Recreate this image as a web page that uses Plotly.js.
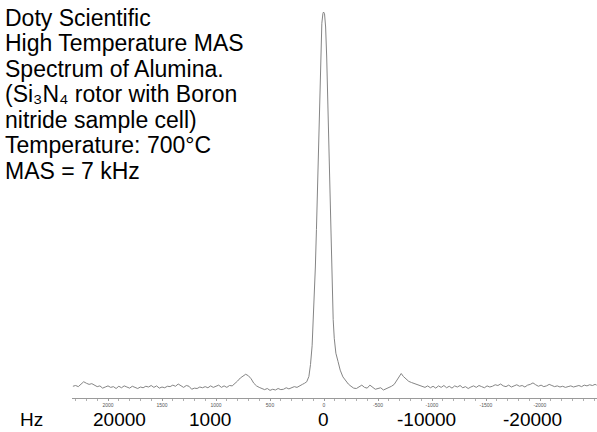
<!DOCTYPE html>
<html>
<head>
<meta charset="utf-8">
<script src="https://cdn.plot.ly/plotly-3.0.1.min.js"></script>
<style>html,body{margin:0;padding:0;background:#fff;}#chart{width:597px;height:432px;}</style>
</head>
<body>
<div id="chart"></div>
<script>
// ---- data (frequency offset in Hz, intensity in arbitrary units) ----
const leftBaselineHz = [23250,23000,22750,22500,22250,22000,21750,21500,21250,21000,
  20750,20500,20250,20000,19750,19500,19250,19000,18750,18500,
  18250,18000,17750,17500,17250,17000,16750,16500,16250,16000,
  15750,15500,15250,15000,14750,14500,14250,14000,13750,13500,
  13250,13000,12750,12500,12250,12000,11750,11500,11250,11000,
  10750,10500,10250,10000,9750,9500,9250,9000,8750];
const leftBaselineInt = [0.2,0.4,0.1,0.9,1.4,1.0,0.7,0.9,0.4,0.1,
  0.3,-0.3,0.0,0.3,-0.1,0.1,-0.4,0.2,-0.2,0.3,
  0.0,-0.3,0.2,-0.1,-0.4,0.0,-0.2,0.2,0.0,0.4,
  -0.1,0.3,-0.3,0.0,-0.2,0.2,0.1,0.5,0.2,0.8,
  0.3,-0.1,0.4,0.2,-0.6,-0.3,-0.4,0.0,-0.2,0.1,
  -0.2,0.3,-0.1,0.2,0.5,-0.1,0.3,-0.1,0.4];

const leftSidebandHz  = [8500,8250,8000,7750,7500,7250,7000,6750,6500,6250,6000];
const leftSidebandInt = [0.3,0.9,1.6,2.4,3.0,3.4,3.0,2.2,1.0,0.3,-0.1];

const leftDipHz  = [5750,5500,5250,5000,4750,4500,4250,4000,3750,3500,3250,3000,2750,2500,2250];
const leftDipInt = [-0.5,-0.7,-0.4,-0.9,-0.6,-0.8,-0.4,-0.7,-0.6,-0.2,-0.5,-0.2,0.1,-0.1,0.4];

const centralPeakHz  = [2000,1800,1600,1400,1250,1100,1000,900,800,700,600,500,400,300,200,100,40,
  -50,-150,-250,-350,-450,-550,-650,-750,-850,-950,-1100,-1300,-1500,-1750,-2000,-2250,-2500];
const centralPeakInt = [0.7,1.0,1.4,2.8,6.0,11,17,24,32,42,53,66,79,91,97,99.6,100,
  99.5,96,88,76,62,47,36,26,18,13,9,6.8,4.5,2.7,1.7,0.8,0.2];

const rightDipHz  = [-2750,-3000,-3250,-3500,-3750,-4000,-4250,-4500,-4750,-5000,-5250,-5500,-5750,-6000,-6250];
const rightDipInt = [-0.3,-0.4,0.1,0.5,-0.1,-0.3,0.5,-0.1,-0.6,-0.4,-0.2,-0.8,-0.5,-0.3,0.2];

const rightSidebandHz  = [-6500,-6750,-7000,-7150,-7350,-7600,-7850,-8100,-8350,-8600,-8850];
const rightSidebandInt = [0.7,1.9,3.2,3.6,2.8,2.1,1.5,1.2,0.9,0.8,0.4];

const rightBaselineHz = [-9100,-9350,-9600,-9850,-10100,-10350,-10600,-10850,-11100,-11350,
  -11600,-11850,-12100,-12350,-12600,-12850,-13100,-13350,-13600,-13850,
  -14100,-14350,-14600,-14850,-15100,-15350,-15600,-15850,-16100,-16350,
  -16600,-16850,-17100,-17350,-17600,-17850,-18100,-18350,-18600,-18850,
  -19100,-19350,-19600,-19850,-20100,-20350,-20600,-20850,-21100,-21350,
  -21600,-21850,-22100,-22350,-22600,-22850,-23100,-23350,-23600,-23850,
  -24100,-24350,-24600,-24850,-25100,-25250];
const rightBaselineInt = [0.2,-0.1,0.3,-0.2,0.2,-0.3,0.3,-0.1,0.4,-0.2,
  0.2,-0.3,0.3,0.0,0.4,-0.2,0.1,-0.4,0.0,0.3,
  -0.1,0.4,0.1,-0.2,0.3,0.0,0.2,0.6,0.4,0.8,
  0.3,0.1,0.5,0.0,0.3,0.6,0.2,0.4,0.0,0.5,
  0.7,1.1,0.6,0.2,0.5,0.1,0.3,0.7,0.4,0.1,
  0.3,0.0,0.2,-0.1,0.1,0.3,0.0,0.2,0.4,0.1,
  0.5,0.3,0.6,0.4,0.7,0.5];

// small axis tick labels
const smallTickHz   = [20000,15000,10000,5000,0,-5000,-10000,-15000,-20000];
const smallTickText = ['2000','1500','1000','500','0','-500','-1000','-1500','-2000'];

// large hand-placed axis labels (text and where they sit, in Hz)
const bigLabelText = ['20000','1000','0','-10000','-20000'];
const bigLabelHz   = [18900,10600,80,-9500,-19300];
const unitLabel = 'Hz';

const titleLines = [
  'Doty Scientific',
  'High Temperature MAS',
  'Spectrum of Alumina.',
  '(Si\u2083N\u2084 rotor with Boron',
  'nitride sample cell)',
  'Temperature: 700°C',
  'MAS = 7 kHz'
];

// ---- build ----
const xs = [].concat(leftBaselineHz, leftSidebandHz, leftDipHz, centralPeakHz, rightDipHz, rightSidebandHz, rightBaselineHz);
const ys = [].concat(leftBaselineInt, leftSidebandInt, leftDipInt, centralPeakInt, rightDipInt, rightSidebandInt, rightBaselineInt);

const W = 597, H = 432;
const L = 72, R = 0, T = 0, B = 34;
const plotW = W - L - R, plotH = H - T - B;
const px2paperX = px => (px - L) / plotW;
const py2paperY = py => (H - B - py) / plotH;

const FONT = 'Liberation Sans, Arial, sans-serif';

const annotations = [];
const titleCenters = [18.5, 43.5, 68.5, 94, 120, 145.5, 171];
titleLines.forEach((t, i) => {
  annotations.push({
    text: t, xref: 'paper', yref: 'paper',
    x: px2paperX(3), y: py2paperY(titleCenters[i]),
    xanchor: 'left', yanchor: 'middle', showarrow: false,
    font: {family: FONT, size: 23, color: '#000'}
  });
});
bigLabelText.forEach((t, i) => {
  annotations.push({
    text: t, xref: 'x', yref: 'paper',
    x: bigLabelHz[i], y: py2paperY(419),
    xanchor: 'center', yanchor: 'middle', showarrow: false,
    font: {family: FONT, size: 19, color: '#000'}
  });
});
annotations.push({
  text: unitLabel, xref: 'paper', yref: 'paper',
  x: px2paperX(31), y: py2paperY(419),
  xanchor: 'center', yanchor: 'middle', showarrow: false,
  font: {family: FONT, size: 19, color: '#000'}
});

const trace = {
  x: xs, y: ys, type: 'scatter', mode: 'lines',
  line: {color: '#858585', width: 1},
  hoverinfo: 'skip'
};

const layout = {
  width: W, height: H,
  margin: {l: L, r: R, t: T, b: B, pad: 0},
  paper_bgcolor: '#fff', plot_bgcolor: '#fff',
  showlegend: false,
  font: {family: FONT},
  xaxis: {
    range: [23333, -25278],
    showgrid: false, zeroline: false,
    showline: true, linecolor: '#9a9a9a', linewidth: 1,
    tickmode: 'array', tickvals: smallTickHz, ticktext: smallTickText,
    ticks: 'outside', ticklen: 2, tickcolor: '#9a9a9a', tickwidth: 1,
    tickfont: {family: FONT, size: 5, color: '#555'},
    minor: {tickmode: 'linear', tick0: 0, dtick: 1000, ticks: 'outside', ticklen: 2, tickcolor: '#b0b0b0', showgrid: false},
    fixedrange: true
  },
  yaxis: {
    range: [-2.93, 103.2], visible: false, showgrid: false, zeroline: false, fixedrange: true
  },
  annotations: annotations
};

Plotly.newPlot('chart', [trace], layout, {staticPlot: true, displayModeBar: false});
</script>
</body>
</html>
